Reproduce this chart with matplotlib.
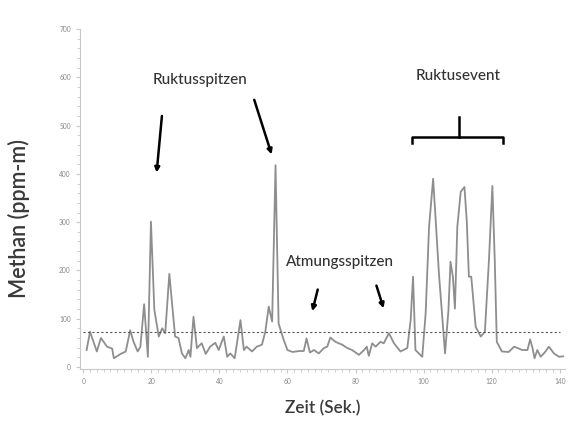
import numpy as np
import matplotlib
matplotlib.use('Agg')
import matplotlib.pyplot as plt
from matplotlib.ticker import MultipleLocator

plt.rcParams['font.family'] = ['Lato', 'DejaVu Sans']

# Zeit (s) und Methan (ppm-m)
zeit = [1, 2, 4, 5.2, 7, 8.5, 9, 11, 12.5, 13.8, 14.8, 16, 16.8, 17.9, 19, 19.9,
        20.9, 22.2, 23.2, 24.1, 25.3, 27, 28, 29, 30, 31, 31.5, 32.4, 33.4, 34.8,
        36, 37.3, 38.8, 39.8, 41.3, 42.3, 43.2, 44.5, 46.2, 47.2, 48, 49.6, 51,
        52.5, 53.5, 54.5, 55.5, 56.5, 57.4, 58.9, 60, 61.5, 63.5, 64.8, 65.6,
        66.6, 67.8, 69.2, 70.7, 71.7, 72.6, 74.1, 76.1, 77.6, 79, 81, 82.5, 83.3,
        83.9, 84.9, 85.9, 87.3, 88.3, 89.8, 91.3, 93.2, 95.2, 96.2, 96.9, 97.6,
        99.6, 100.6, 101.6, 102.8, 104.5, 106.3, 107.3, 107.9, 108.6, 109.2,
        109.9, 110.9, 112, 112.7, 113.3, 114, 115.3, 116.8, 118, 119.2, 120.2,
        120.9, 121.5, 123, 125, 126.6, 129, 130.5, 131.3, 132, 132.6, 133.4,
        134.4, 135.7, 136.8, 138.3, 139.8, 141]
methan = [35, 73, 32, 60, 42, 38, 18, 27, 32, 76, 52, 32, 42, 130, 21, 301,
          118, 63, 80, 70, 193, 63, 60, 28, 18, 35, 21, 104, 39, 49,
          27, 42, 50, 35, 63, 21, 28, 18, 97, 35, 42, 32, 42,
          46, 73, 125, 94, 418, 90, 56, 35, 31, 33, 33, 59,
          30, 35, 28, 39, 42, 61, 52, 46, 39, 35, 25, 35, 42,
          23, 49, 42, 52, 49, 70, 49, 32, 39, 97, 187, 35,
          21, 111, 290, 390, 194, 28, 118, 218, 187, 121,
          290, 363, 373, 300, 187, 187, 83, 63, 73, 222, 375,
          222, 52, 32, 31, 42, 35, 35, 57, 39, 18, 35,
          21, 31, 42, 28, 21, 22]
schwelle = 73

fig = plt.figure(figsize=(5.7, 4.23), dpi=100)
ax = fig.add_axes([0.14, 0.128, 0.851, 0.803])

ax.plot(zeit, methan, color='#8e8e8e', lw=1.3)
ax.plot([0, 140], [schwelle, schwelle], color='#555555', lw=0.8, ls=(0, (2, 2)))

ax.set_xlim(-1, 141.5)
ax.set_ylim(-4, 700)
ax.xaxis.set_major_locator(MultipleLocator(20))
ax.xaxis.set_minor_locator(MultipleLocator(2))
ax.yaxis.set_major_locator(MultipleLocator(100))
ax.yaxis.set_minor_locator(MultipleLocator(20))
for s in ('top', 'right'):
    ax.spines[s].set_visible(False)
for s in ('left', 'bottom'):
    ax.spines[s].set_color('#c8c8c8')
ax.tick_params(which='both', colors='#c8c8c8', labelcolor='#888888', labelsize=4.8)
ax.tick_params(which='major', length=3)
ax.tick_params(which='minor', length=2)

ax.set_ylabel('Methan (ppm-m)', fontsize=15.5, color='#3a3a3a', fontweight='semibold')
ax.yaxis.set_label_coords(-0.102, 0.444)
ax.set_xlabel('Zeit (Sek.)', fontsize=12.3, color='#3a3a3a', labelpad=11,
              fontweight='semibold')

txt = dict(fontsize=11, color='#333333', ha='center', va='center', fontweight='medium')
arr = dict(arrowstyle='-|>', color='black', lw=1.8, mutation_scale=7)
ax.text(34.4, 594, 'Ruktusspitzen', **txt)
ax.annotate('', xy=(21.5, 397), xytext=(23.2, 526), arrowprops=arr)
ax.annotate('', xy=(55.6, 435), xytext=(50, 559), arrowprops=arr)
ax.text(75.3, 217, 'Atmungsspitzen', **txt)
ax.annotate('', xy=(67.1, 110), xytext=(69.1, 166), arrowprops=arr)
ax.annotate('', xy=(88.5, 116), xytext=(85.9, 174), arrowprops=arr)
ax.text(110, 602, 'Ruktusevent', **txt)
ax.plot([96.5, 96.5, 123.2, 123.2], [464, 476, 476, 464], color='black', lw=1.8)
ax.plot([110.3, 110.3], [476, 518], color='black', lw=1.8)

fig.savefig('out.png', dpi=100)
